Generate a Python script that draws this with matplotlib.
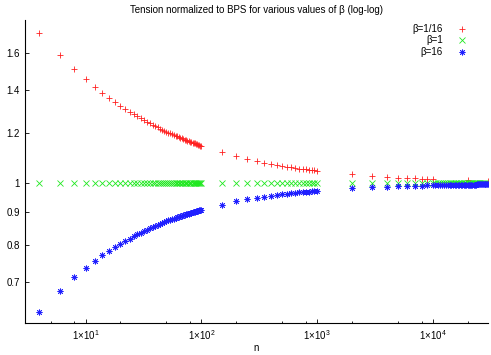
import matplotlib
matplotlib.use("Agg")
import matplotlib.pyplot as plt
from matplotlib.ticker import FixedLocator, NullFormatter

plt.rcParams["font.family"] = ["Liberation Sans", "DejaVu Sans"]
plt.rcParams["mathtext.fontset"] = "custom"
plt.rcParams["mathtext.rm"] = "Liberation Sans"

# n grid used by the runs
n_small = [4, 6, 8, 10, 12, 14, 16, 18, 20, 22, 24, 26, 28, 30, 32, 34, 36, 38,
           40, 42, 44, 46, 48, 50, 52, 54, 56, 58, 60, 62, 64, 66, 68, 70, 72,
           74, 76, 78, 80, 82, 84, 86, 88, 90, 92, 94, 96, 98, 100]
n_mid = [150, 200, 250, 300, 350, 400, 450, 500, 550, 600, 650, 700, 750, 800,
         850, 900, 950, 1000]
n_big = [2000, 3000, 4000, 5000, 6000, 7000, 8000, 9000]
n_red_tail = [10000, 20000, 30000]
n_dense = [10000, 10500, 11000, 11500, 12000, 12500, 13000, 13500, 14000,
           14500, 15000, 15500, 16000, 16500, 17000, 17500, 18000, 18500,
           19000, 19500, 20000, 20500, 21000, 21500, 22000, 22500, 23000,
           23500, 24000, 24500, 25000, 25500, 26000, 26500, 27000, 27500,
           28000, 28500, 29000, 29500, 30000]

# beta = 1/16
red_small = [1.720, 1.588, 1.509, 1.455, 1.416, 1.385, 1.360, 1.339, 1.322,
             1.307, 1.294, 1.282, 1.272, 1.263, 1.255, 1.247, 1.240, 1.234,
             1.228, 1.222, 1.217, 1.212, 1.208, 1.204, 1.200, 1.196, 1.192,
             1.189, 1.186, 1.183, 1.180, 1.177, 1.175, 1.172, 1.170, 1.167,
             1.165, 1.163, 1.161, 1.159, 1.157, 1.155, 1.154, 1.152, 1.150,
             1.149, 1.147, 1.145, 1.144]
red_mid = [1.118, 1.102, 1.091, 1.083, 1.077, 1.072, 1.068, 1.064, 1.061,
           1.059, 1.056, 1.054, 1.053, 1.051, 1.049, 1.048, 1.047, 1.046]
red_big = [1.032, 1.026, 1.023, 1.020, 1.019, 1.017, 1.016, 1.015]
red_tail = [1.014, 1.010, 1.008]

# beta = 1
green_small = [1.000, 1.000, 1.000, 1.000, 1.000, 1.000, 1.000, 1.000, 1.000,
               1.000, 1.000, 1.000, 1.000, 1.000, 1.000, 1.000, 1.000, 1.000,
               1.000, 1.000, 1.000, 1.000, 1.000, 1.000, 1.000, 1.000, 1.000,
               1.000, 1.000, 1.000, 1.000, 1.000, 1.000, 1.000, 1.000, 1.000,
               1.000, 1.000, 1.000, 1.000, 1.000, 1.000, 1.000, 1.000, 1.000,
               1.000, 1.000, 1.000, 1.000]
green_mid = [1.000, 1.000, 1.000, 1.000, 1.000, 1.000, 1.000, 1.000, 1.000,
             1.000, 1.000, 1.000, 1.000, 1.000, 1.000, 1.000, 1.000, 1.000]
green_big = [1.000, 1.000, 1.000, 1.000, 1.000, 1.000, 1.000, 1.000]
green_dense = [1.000, 1.000, 1.000, 1.000, 1.000, 1.000, 1.000, 1.000, 1.000,
               1.000, 1.000, 1.000, 1.000, 1.000, 1.000, 1.000, 1.000, 1.000,
               1.000, 1.000, 1.000, 1.000, 1.000, 1.000, 1.000, 1.000, 1.000,
               1.000, 1.000, 1.000, 1.000, 1.000, 1.000, 1.000, 1.000, 1.000,
               1.000]

# beta = 16
blue_small = [0.628, 0.678, 0.712, 0.736, 0.755, 0.771, 0.783, 0.794, 0.804,
              0.812, 0.819, 0.825, 0.831, 0.836, 0.841, 0.846, 0.850, 0.853,
              0.857, 0.860, 0.863, 0.866, 0.869, 0.871, 0.874, 0.876, 0.878,
              0.880, 0.882, 0.884, 0.886, 0.888, 0.889, 0.891, 0.892, 0.894,
              0.895, 0.896, 0.898, 0.899, 0.900, 0.901, 0.902, 0.903, 0.904,
              0.905, 0.906, 0.907, 0.908]
blue_mid = [0.925, 0.936, 0.943, 0.948, 0.952, 0.955, 0.958, 0.960, 0.962,
            0.964, 0.965, 0.967, 0.968, 0.969, 0.970, 0.971, 0.972, 0.972]
blue_big = [0.981, 0.985, 0.987, 0.988, 0.989, 0.990, 0.991, 0.992]
blue_dense = [0.992, 0.992, 0.992, 0.992, 0.993, 0.993, 0.993, 0.993, 0.993,
              0.993, 0.993, 0.993, 0.993, 0.993, 0.994, 0.994, 0.994, 0.994,
              0.994, 0.994, 0.994, 0.994, 0.994, 0.994, 0.994, 0.994, 0.994,
              0.994, 0.995, 0.995, 0.995, 0.995, 0.995, 0.995, 0.995, 0.995,
              0.995, 0.995, 0.995, 0.995, 0.995]

x_major = [10, 100, 1000, 10000]
x_major_labels = [r"$\mathregular{1{\times}10^{1}}$", r"$\mathregular{1{\times}10^{2}}$",
                  r"$\mathregular{1{\times}10^{3}}$", r"$\mathregular{1{\times}10^{4}}$"]
x_minor = [5, 8, 20, 50, 80, 200, 500, 800, 2000, 5000, 8000, 20000]
y_ticks = [0.7, 0.8, 0.9, 1.0, 1.2, 1.4, 1.6]
y_labels = ["0.7", "0.8", "0.9", "1", "1.2", "1.4", "1.6"]

fig = plt.figure(figsize=(4.91, 3.55), dpi=100)
ax = fig.add_axes([25 / 491, 1 - 323 / 355, 463 / 491, 303 / 355])

red_n = n_small + n_mid + n_big + n_red_tail
red_y = red_small + red_mid + red_big + red_tail
green_n = n_small + n_mid + n_big + n_dense[:len(green_dense)]
green_y = green_small + green_mid + green_big + green_dense
blue_n = n_small + n_mid + n_big + n_dense
blue_y = blue_small + blue_mid + blue_big + blue_dense

ax.plot(red_n, red_y, ls="none", marker="+", ms=5, mew=0.6,
        color="#ff2020", label="β=1/16")
ax.plot(green_n, green_y, ls="none", marker="x", ms=3.8, mew=0.6,
        color="#20e820", label="β=1")
ax.plot(blue_n, blue_y, ls="none", marker=(8, 2, 0), ms=4.2, mew=0.6,
        color="#2020ff", label="β=16")

ax.set_xscale("log")
ax.set_yscale("log")
ax.set_xlim(3, 30000)
ax.set_ylim(0.604, 1.80)

ax.xaxis.set_major_locator(FixedLocator(x_major))
ax.set_xticklabels(x_major_labels)
ax.xaxis.set_minor_locator(FixedLocator(x_minor))
ax.xaxis.set_minor_formatter(NullFormatter())
ax.yaxis.set_major_locator(FixedLocator(y_ticks))
ax.set_yticklabels(y_labels)
ax.yaxis.set_minor_locator(FixedLocator([]))

ax.tick_params(which="both", direction="in", labelsize=7, color="black")
ax.tick_params(which="major", length=3, width=0.6, pad=3.5)
ax.tick_params(which="minor", length=1.8, width=0.6)

for side in ("top", "right"):
    ax.spines[side].set_visible(False)
for side in ("left", "bottom"):
    ax.spines[side].set_linewidth(0.8)

ax.set_title("Tension normalized to BPS for various values of β (log-log)",
             fontsize=7, pad=5)
ax.set_xlabel("n", fontsize=7, labelpad=1)

ax.legend(loc="upper right", bbox_to_anchor=(469 / 491, 1 - 24 / 355),
          bbox_transform=fig.transFigure, frameon=False, markerfirst=False,
          numpoints=1, fontsize=7, labelspacing=0.15, handlelength=1.5,
          handletextpad=1.2, borderpad=0, borderaxespad=0)

fig.savefig("out.png", dpi=100)
